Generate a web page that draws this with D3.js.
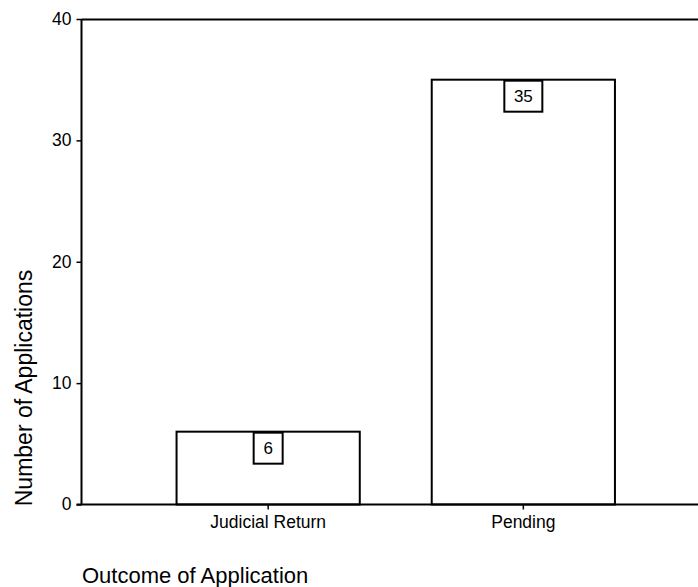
<!DOCTYPE html>
<html><head><meta charset="utf-8">
<script src="https://cdn.jsdelivr.net/npm/d3@7"></script>
<style>body{margin:0;background:#fff;} svg{display:block;font-family:"Liberation Sans",Arial,sans-serif;}</style>
</head><body>
<svg id="c" width="698" height="587"></svg>
<script>
const categories = ["Judicial Return", "Pending"];
const values = [6, 35];
const yTicks = [0, 10, 20, 30, 40];
const xTitle = "Outcome of Application";
const yTitle = "Number of Applications";

(function () {
const svg = d3.select("#c");
const mLeft = 81.5, mTop = 19, mBottom = 504.5, mRight = 710;
const x = d3.scaleBand().domain(categories).range([mLeft, mRight]).paddingInner(0.282).paddingOuter(0.3725);
const y = d3.scaleLinear().domain([0, 40]).range([mBottom, mTop]);
const FF = "Liberation Sans, Arial, sans-serif";

// frame
svg.append("line").attr("x1", mLeft).attr("x2", 698).attr("y1", mTop + 0.5).attr("y2", mTop + 0.5).attr("stroke", "#000").attr("stroke-width", 2);

// bars
svg.selectAll("rect.bar").data(values).enter().append("rect")
  .attr("x", (d, i) => x(categories[i]))
  .attr("y", d => y(d))
  .attr("width", x.bandwidth())
  .attr("height", d => mBottom - y(d))
  .attr("fill", "#fff").attr("stroke", "#000").attr("stroke-width", 2);

// value labels
const lab = svg.selectAll("g.lab").data(values).enter().append("g")
  .attr("transform", (d, i) => `translate(${x(categories[i]) + x.bandwidth() / 2},${y(d)})`);
lab.append("rect")
  .attr("x", d => String(d).length > 1 ? -19 : -14.5)
  .attr("y", 1).attr("width", d => String(d).length > 1 ? 38 : 29).attr("height", 31)
  .attr("fill", "#fff").attr("stroke", "#000").attr("stroke-width", 2);
lab.append("text").attr("y", 22).attr("text-anchor", "middle").attr("font-size", 17).attr("font-family", FF).text(d => d);

// y axis
const ya = svg.append("g").attr("transform", `translate(${mLeft},0)`)
  .call(d3.axisLeft(y).tickValues(yTicks).tickSize(5).tickPadding(5).tickFormat(d3.format("d")));
ya.select(".domain").attr("stroke-width", 2).attr("d", `M0,${mTop}V${mBottom}`);
ya.selectAll(".tick line").attr("stroke-width", 1.5);
ya.selectAll(".tick text").attr("font-size", 17.5).attr("font-family", FF).attr("fill", "#000").attr("dy", "0.3em");

// x axis
const xa = svg.append("g").attr("transform", `translate(0,${mBottom})`)
  .call(d3.axisBottom(x).tickSize(5).tickPadding(6));
xa.select(".domain").attr("stroke-width", 2).attr("d", `M${mLeft - 5},0H698`);
xa.selectAll(".tick line").attr("stroke-width", 1.5);
xa.selectAll(".tick text").attr("font-size", 17.5).attr("font-family", FF).attr("fill", "#000").attr("dy", "0").attr("y", 23.5);

// titles
svg.append("text").attr("x", 82).attr("y", 583).attr("font-size", 22).attr("font-family", FF).text(xTitle);
svg.append("text").attr("transform", "translate(32,388) rotate(-90)").attr("text-anchor", "middle").attr("font-size", 23).attr("font-family", FF).text(yTitle);
})();
</script>
</body></html>
